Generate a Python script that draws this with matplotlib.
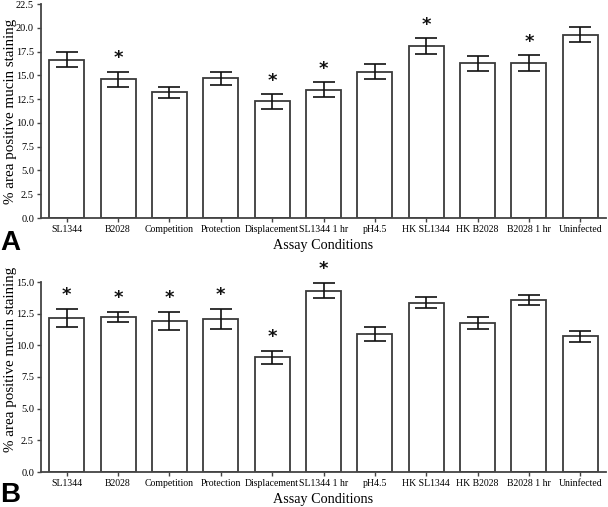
import matplotlib
matplotlib.use("Agg")
import matplotlib.pyplot as plt
import numpy as np

categories = ["SL1344", "B2028", "Competition", "Protection", "Displacement",
              "SL1344 1 hr", "pH4.5", "HK SL1344", "HK B2028", "B2028 1 hr", "Uninfected"]

means_a = [16.65, 14.6, 13.2, 14.7, 12.25, 13.48, 15.4, 18.07, 16.28, 16.3, 19.29]
errs_a = [0.78, 0.8, 0.55, 0.7, 0.8, 0.8, 0.8, 0.84, 0.8, 0.8, 0.77]
signif_a = [False, True, False, False, True, True, False, True, False, True, False]

means_b = [12.16, 12.27, 11.93, 12.06, 9.05, 14.32, 10.88, 13.37, 11.77, 13.61, 10.7]
errs_b = [0.68, 0.4, 0.7, 0.8, 0.5, 0.6, 0.55, 0.45, 0.47, 0.4, 0.45]
signif_b = [True, True, True, True, True, True, False, False, False, False, False]

yticks_a = [0.0, 2.5, 5.0, 7.5, 10.0, 12.5, 15.0, 17.5, 20.0, 22.5]
yticks_b = [0.0, 2.5, 5.0, 7.5, 10.0, 12.5, 15.0]

plt.rcParams['font.family'] = ['Liberation Serif', 'DejaVu Serif']

W, H = 608, 507
fig = plt.figure(figsize=(W / 100, H / 100), dpi=100)

axis_col = "#444444"
bar_edge = "#3a3a3a"


def panel(rect, means, errs, signif, yticks, ymax, star_off, letter, letter_y, ylab_y):
    ax = fig.add_axes(rect)
    x = np.arange(len(categories))
    ax.bar(x, means, width=0.68, color="white", edgecolor=bar_edge, linewidth=1.3, zorder=2)
    ax.errorbar(x, means, yerr=errs, fmt="none", ecolor="#111111", elinewidth=1.2,
                capsize=8, capthick=1.2, zorder=3)
    for xi, m, e, s in zip(x, means, errs, signif):
        if s:
            ax.text(xi, m + e + star_off, "*", ha="center", va="center",
                    fontsize=13, fontweight="bold", family="DejaVu Sans", color="#111111")
    ax.set_xlim(-0.5, 10.5)
    ax.set_ylim(0, ymax)
    ax.set_yticks(yticks)
    ax.set_yticklabels([f"{t:.1f}" for t in yticks], fontsize=7.5)
    ax.set_xticks(x)
    ax.set_xticklabels(categories, fontsize=7)
    for sp in ["top", "right"]:
        ax.spines[sp].set_visible(False)
    for sp in ["left", "bottom"]:
        ax.spines[sp].set_color(axis_col)
        ax.spines[sp].set_linewidth(1.3)
    ax.tick_params(axis="both", colors=axis_col, labelcolor="black", length=3, width=1.0, pad=2)
    ax.set_xlabel("Assay Conditions", fontsize=10.2, labelpad=4)
    ax.set_ylabel("% area positive mucin staining", fontsize=10.8)
    ax.yaxis.set_label_coords(-0.043, ylab_y)
    fig.text(0.001, letter_y, letter, fontsize=20, fontweight="bold",
             family="Liberation Sans", ha="left", va="center")
    return ax


panel([41 / W, 1 - 218 / H, 565 / W, 214 / H], means_a, errs_a, signif_a,
      yticks_a, 22.5, 1.4, "A", 1 - 243 / H, 0.5)
panel([41 / W, 1 - 472 / H, 565 / W, 190 / H], means_b, errs_b, signif_b,
      yticks_b, 15.0, 1.1, "B", 1 - 495 / H, 0.595)

fig.savefig("out.png", dpi=100)
